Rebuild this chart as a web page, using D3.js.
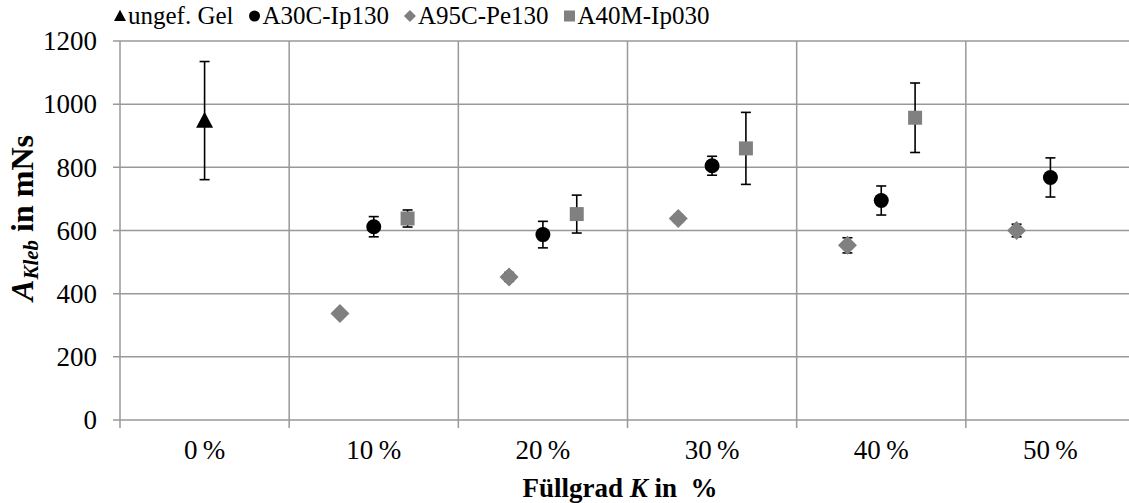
<!DOCTYPE html>
<html>
<head>
<meta charset="utf-8">
<script src="https://cdnjs.cloudflare.com/ajax/libs/d3/7.8.5/d3.min.js"></script>
<style>
  body { margin: 0; background: #fff; }
</style>
</head>
<body>
<svg id="chart" width="1129" height="503" font-family="'Liberation Serif', 'DejaVu Serif', serif"></svg>
<script>
// categories (Füllgrad)
var categories = ['0 %', '10 %', '20 %', '30 %', '40 %', '50 %'];
var yTicks = [0, 200, 400, 600, 800, 1000, 1200];

// mean values and +/- errors per series, null = no point
var gelVals  = [948, null, null, null, null, null];
var gelErr   = [187, null, null, null, null, null];
var a30cVals = [null, 612, 587, 805, 695, 768];
var a30cErr  = [null, 32, 42, 30, 46, 62];
var a95cVals = [null, 337, 453, 638, 553, 600];
var a95cErr  = [null, 6, 14, 12, 24, 20];
var a40mVals = [null, 638, 652, 860, 957, null];
var a40mErr  = [null, 27, 60, 114, 110, null];

var seriesNames = ['ungef. Gel', 'A30C-Ip130', 'A95C-Pe130', 'A40M-Ip030'];

var series = [
  { name: seriesNames[0], vals: gelVals,  err: gelErr,  shape: 'tri',  color: '#000',    off: 0 },
  { name: seriesNames[1], vals: a30cVals, err: a30cErr, shape: 'circ', color: '#000',    off: 0 },
  { name: seriesNames[2], vals: a95cVals, err: a95cErr, shape: 'dia',  color: '#808080', off: -1 },
  { name: seriesNames[3], vals: a40mVals, err: a40mErr, shape: 'sq',   color: '#808080', off: 1 }
];

// marker path drawn around 0,0, r = half width
function marker(shape, r) {
  if (shape === 'circ') return d3.symbol().type(d3.symbolCircle).size(Math.PI * r * r)();
  if (shape === 'sq') return 'M' + [-r, -r] + 'H' + r + 'V' + r + 'H' + (-r) + 'Z';
  if (shape === 'dia') return 'M0,' + (-r) + 'L' + r + ',0L0,' + r + 'L' + (-r) + ',0Z';
  return 'M0,' + (-r * 1.05) + 'L' + r + ',' + (r * 0.85) + 'L' + (-r) + ',' + (r * 0.85) + 'Z';
}

var margin = { left: 120, top: 41, right: -6, bottom: 83 };
var W = 1129, H = 503;
var svg = d3.select('#chart');
var g = svg.append('g').attr('transform', 'translate(' + [margin.left, margin.top] + ')');
var iw = W - margin.left - margin.right, ih = H - margin.top - margin.bottom;

var x = d3.scaleBand().domain(categories).range([0, iw]).padding(0);
var y = d3.scaleLinear().domain([0, 1200]).range([ih, 0]);
var gridColor = '#999';

// horizontal grid
g.selectAll('.hgrid').data(yTicks).enter().append('line')
  .attr('x1', -7).attr('x2', iw)
  .attr('y1', function(d) { return y(d); }).attr('y2', function(d) { return y(d); })
  .style('stroke', gridColor).style('stroke-width', 1.5);

// vertical grid (category boundaries) with ticks below axis
g.selectAll('.vgrid').data(categories).enter().append('line')
  .attr('x1', function(d) { return x(d); }).attr('x2', function(d) { return x(d); })
  .attr('y1', 0).attr('y2', ih + 8)
  .style('stroke', gridColor).style('stroke-width', 1.5);

// y tick labels
g.selectAll('.ylab').data(yTicks).enter().append('text')
  .attr('x', -23).attr('y', function(d) { return y(d); })
  .attr('dy', '0.34em')
  .attr('text-anchor', 'end')
  .style('font-size', '27px')
  .text(function(d) { return d; });

// x tick labels
g.selectAll('.xlab').data(categories).enter().append('text')
  .attr('x', function(d) { return x(d) + x.bandwidth() / 2; })
  .attr('y', ih + 39)
  .attr('text-anchor', 'middle')
  .style('font-size', '27px')
  .text(function(d) { return d.replace(' ', '\u2009'); });

var step = x.bandwidth() * 0.2;
function px(s, i) { return x(categories[i]) + x.bandwidth() / 2 + s.off * step; }
var mSize = { tri: 8.5, circ: 7.5, dia: 9.5, sq: 7 };
var lSize = { tri: 6, circ: 5.5, dia: 6, sq: 5.5 };

series.forEach(function(s) {
  var pts = s.vals.map(function(v, i) { return { v: v, e: s.err[i], i: i }; })
    .filter(function(d) { return d.v != null; });
  var grp = g.append('g');

  // error bars
  var eb = grp.selectAll('.eb').data(pts).enter().append('g');
  eb.append('line')
    .attr('x1', function(d) { return px(s, d.i); }).attr('x2', function(d) { return px(s, d.i); })
    .attr('y1', function(d) { return y(d.v + d.e); }).attr('y2', function(d) { return y(d.v - d.e); })
    .style('stroke', '#000').style('stroke-width', 1.6);
  [1, -1].forEach(function(sign) {
    eb.append('line')
      .attr('x1', function(d) { return px(s, d.i) - 5; }).attr('x2', function(d) { return px(s, d.i) + 5; })
      .attr('y1', function(d) { return y(d.v + sign * d.e); }).attr('y2', function(d) { return y(d.v + sign * d.e); })
      .style('stroke', '#000').style('stroke-width', 1.6);
  });

  // markers
  grp.selectAll('.pt').data(pts).enter().append('path')
    .attr('d', marker(s.shape, mSize[s.shape]))
    .attr('transform', function(d) { return 'translate(' + [px(s, d.i), y(d.v)] + ')'; })
    .style('fill', s.color);
});

// legend
var legend = svg.append('g').attr('transform', 'translate(0,24)');
var lx = 114;
series.forEach(function(s) {
  var item = legend.append('g');
  item.append('path')
    .attr('d', marker(s.shape, lSize[s.shape]))
    .attr('transform', 'translate(' + [lx + 6, -8] + ')')
    .style('fill', s.color);
  var t = item.append('text')
    .attr('x', lx + 14).attr('y', 0)
    .style('font-size', '25px')
    .text(s.name);
  lx += 14 + t.node().getComputedTextLength() + 15;
});

// y axis title
var yt = svg.append('text')
  .attr('transform', 'translate(33,' + 218 + ') rotate(-90)')
  .attr('text-anchor', 'middle')
  .style('font-size', '32px').style('font-weight', 'bold');
yt.append('tspan').style('font-style', 'italic').text('A');
yt.append('tspan').style('font-style', 'italic').style('font-size', '21px').attr('dy', 5).text('Kleb');
yt.append('tspan').attr('dy', -5).text(' in mNs');

// x axis title
var xt = svg.append('text')
  .attr('x', 620).attr('y', 497)
  .attr('text-anchor', 'middle')
  .style('font-size', '27px').style('font-weight', 'bold');
xt.append('tspan').text('Füllgrad ');
xt.append('tspan').style('font-style', 'italic').text('K');
xt.append('tspan').text(' in\u2002%');
</script>
</body>
</html>
